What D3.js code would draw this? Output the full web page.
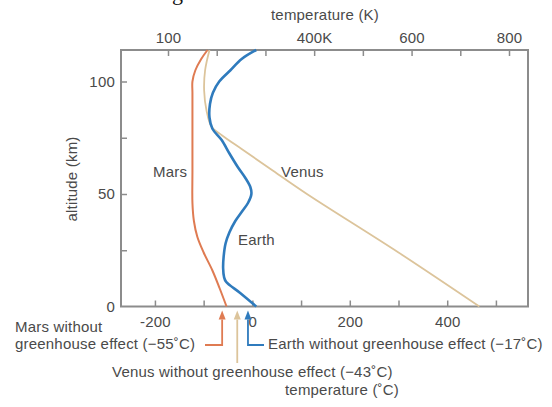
<!DOCTYPE html>
<meta charset="utf-8">
<script src="https://d3js.org/d3.v7.min.js"></script>
<style>
  body { margin: 0; background: #fff; }
  text { font-family: "Liberation Sans", Arial, sans-serif; fill: #4a4a4a; letter-spacing: 0.2px; }
</style>
<div id="my_dataviz"></div>
<script>
    // altitude (km) and temperature (deg C)
    var marsAlt  = [0, 8, 16, 24, 31, 38, 46, 60, 80, 95, 100, 105, 110, 114];
    var marsTemp = [-53, -67, -82, -100, -113, -120, -123, -123, -123, -123, -123, -117, -105, -92];

    var earthAlt  = [0, 6, 11, 13, 17, 22, 28, 33, 38, 42, 46, 50, 53, 57, 62, 68, 74, 79, 84, 90, 95, 100, 105, 110, 114];
    var earthTemp = [8, -25, -54, -58, -60, -59, -55, -47, -35, -22, -9, -2, -4, -14, -30, -47, -63, -82, -88, -87, -81, -68, -45, -22, 8];

    var venusAlt  = [0, 24, 50, 61, 70, 76, 80, 87, 96, 105, 114];
    var venusTemp = [466, 300, 112, 38, -22, -62, -84, -94, -99, -97, -88];

    // axes
    var kelvinTicks  = [100, 200, 300, 400, 500, 600, 700, 800];
    var kelvinLabels = { 100: "100", 400: "400K", 600: "600", 800: "800" };
    var celsiusTicks  = [-200, -100, 0, 100, 200, 300, 400, 500];
    var celsiusLabels = { "-200": "-200", "0": "0", "200": "200", "400": "400" };
    var altTicks  = [0, 25, 50, 75, 100];
    var altLabels = { 0: "0", 50: "50", 100: "100" };

    // "without greenhouse effect" arrows (where they stand on the axis) and their labels
    var planets   = ["Mars", "Venus", "Earth"];
    var arrowAt   = [-62, -31, -9];
    var noGhLabel = ["(\u221255\u02DAC)", "(\u221243\u02DAC)", "(\u221217\u02DAC)"];

    var colors = { Mars: "#df7b52", Venus: "#dcc49b", Earth: "#2f7bbd" };

    var W = 552, H = 407;
    var plot = { left: 121, right: 528, top: 50, bottom: 306.5 };

    var svg = d3.select("#my_dataviz")
        .append("svg")
        .attr("width", W)
        .attr("height", H);

    var kMin = 3.5, kMax = 839;
    var xK = d3.scaleLinear().domain([kMin, kMax]).range([plot.left, plot.right]);
    var xC = d3.scaleLinear().domain([kMin - 273.15, kMax - 273.15]).range([plot.left, plot.right]);
    var y = d3.scaleLinear().domain([0, 114]).range([plot.bottom, plot.top]);

    // cut-off caption fragment at very top (cropped in the original too)
    svg.append("text")
        .attr("x", 172).attr("y", 0)
        .style("font-family", "'Liberation Serif', serif")
        .style("font-size", "22px")
        .style("fill", "#111")
        .text("g");

    // frame
    svg.append("rect")
        .attr("x", plot.left).attr("y", plot.top)
        .attr("width", plot.right - plot.left)
        .attr("height", plot.bottom - plot.top)
        .attr("fill", "none")
        .attr("stroke", "#8c8c8c")
        .attr("stroke-width", 2);

    function styleAxis(g) {
        g.select(".domain").remove();
        g.selectAll(".tick line").attr("stroke", "#8c8c8c").attr("stroke-width", 1.5);
        g.selectAll(".tick text").style("font-size", "15px").style("fill", "#4a4a4a")
            .style("font-family", "'Liberation Sans', Arial, sans-serif");
    }

    svg.append("g")
        .attr("transform", "translate(0," + plot.top + ")")
        .call(d3.axisTop(xK).tickValues(kelvinTicks).tickSize(-6).tickPadding(7)
            .tickFormat(function (d) { return kelvinLabels[d] || ""; }))
        .call(styleAxis);

    svg.append("g")
        .attr("transform", "translate(0," + plot.bottom + ")")
        .call(d3.axisBottom(xC).tickValues(celsiusTicks).tickSize(-6).tickPadding(10)
            .tickFormat(function (d) { return celsiusLabels[d] || ""; }))
        .call(styleAxis);

    svg.append("g")
        .attr("transform", "translate(" + plot.left + ",0)")
        .call(d3.axisLeft(y).tickValues(altTicks).tickSize(-6).tickPadding(6)
            .tickFormat(function (d) { return altLabels[d] || ""; }))
        .call(styleAxis)
        .selectAll(".tick line").filter(function (d) { return d === 0; }).remove();

    // axis titles
    svg.append("text")
        .attr("x", 325).attr("y", 20)
        .style("text-anchor", "middle").style("font-size", "15px")
        .text("temperature (K)");

    svg.append("text")
        .attr("transform", "rotate(-90)")
        .attr("x", -179).attr("y", 77)
        .style("text-anchor", "middle").style("font-size", "15px")
        .text("altitude (km)");

    svg.append("text")
        .attr("x", 342).attr("y", 395)
        .style("text-anchor", "middle").style("font-size", "15px")
        .text("temperature (\u02DAC)");

    // profiles
    var line = d3.line()
        .x(function (d) { return xC(d[1]); })
        .y(function (d) { return y(d[0]); })
        .curve(d3.curveCatmullRom.alpha(0.5));

    var profiles = [
        { name: "Venus", alt: venusAlt, temp: venusTemp, w: 1.8 },
        { name: "Mars", alt: marsAlt, temp: marsTemp, w: 2 },
        { name: "Earth", alt: earthAlt, temp: earthTemp, w: 2.6 }
    ];

    svg.append("g")
        .selectAll("path")
        .data(profiles)
        .enter()
        .append("path")
        .attr("d", function (p) { return line(d3.zip(p.alt, p.temp)); })
        .attr("fill", "none")
        .attr("stroke", function (p) { return colors[p.name]; })
        .attr("stroke-width", function (p) { return p.w; });

    // curve labels
    svg.append("text").attr("x", 153).attr("y", 177).style("font-size", "15px").text("Mars");
    svg.append("text").attr("x", 281).attr("y", 177).style("font-size", "15px").text("Venus");
    svg.append("text").attr("x", 238).attr("y", 245).style("font-size", "15px").text("Earth");

    // arrows and annotations below the axis
    var tipY = plot.bottom + 4, baseY = tipY + 9;
    var bend = [345, 363, 345];
    planets.forEach(function (p, i) {
        var ax = xC(arrowAt[i]);
        svg.append("path")
            .attr("d", "M" + ax + "," + tipY + "L" + (ax - 3.5) + "," + baseY + "L" + (ax + 3.5) + "," + baseY + "Z")
            .attr("fill", colors[p]);
        var d = "M" + ax + "," + baseY + "L" + ax + "," + bend[i];
        if (p === "Mars") d += "L205," + bend[i];
        if (p === "Earth") d += "L264," + bend[i];
        svg.append("path")
            .attr("d", d)
            .attr("fill", "none")
            .attr("stroke", colors[p])
            .attr("stroke-width", 1.8);
    });

    svg.append("text").attr("x", 15).attr("y", 332).style("font-size", "15px").text("Mars without");
    svg.append("text").attr("x", 15).attr("y", 349).style("font-size", "15px")
        .text("greenhouse effect " + noGhLabel[0]);
    svg.append("text").attr("x", 112).attr("y", 377).style("font-size", "15px")
        .text("Venus without greenhouse effect " + noGhLabel[1]);
    svg.append("text").attr("x", 268).attr("y", 349).style("font-size", "15px")
        .text("Earth without greenhouse effect " + noGhLabel[2]);
</script>
